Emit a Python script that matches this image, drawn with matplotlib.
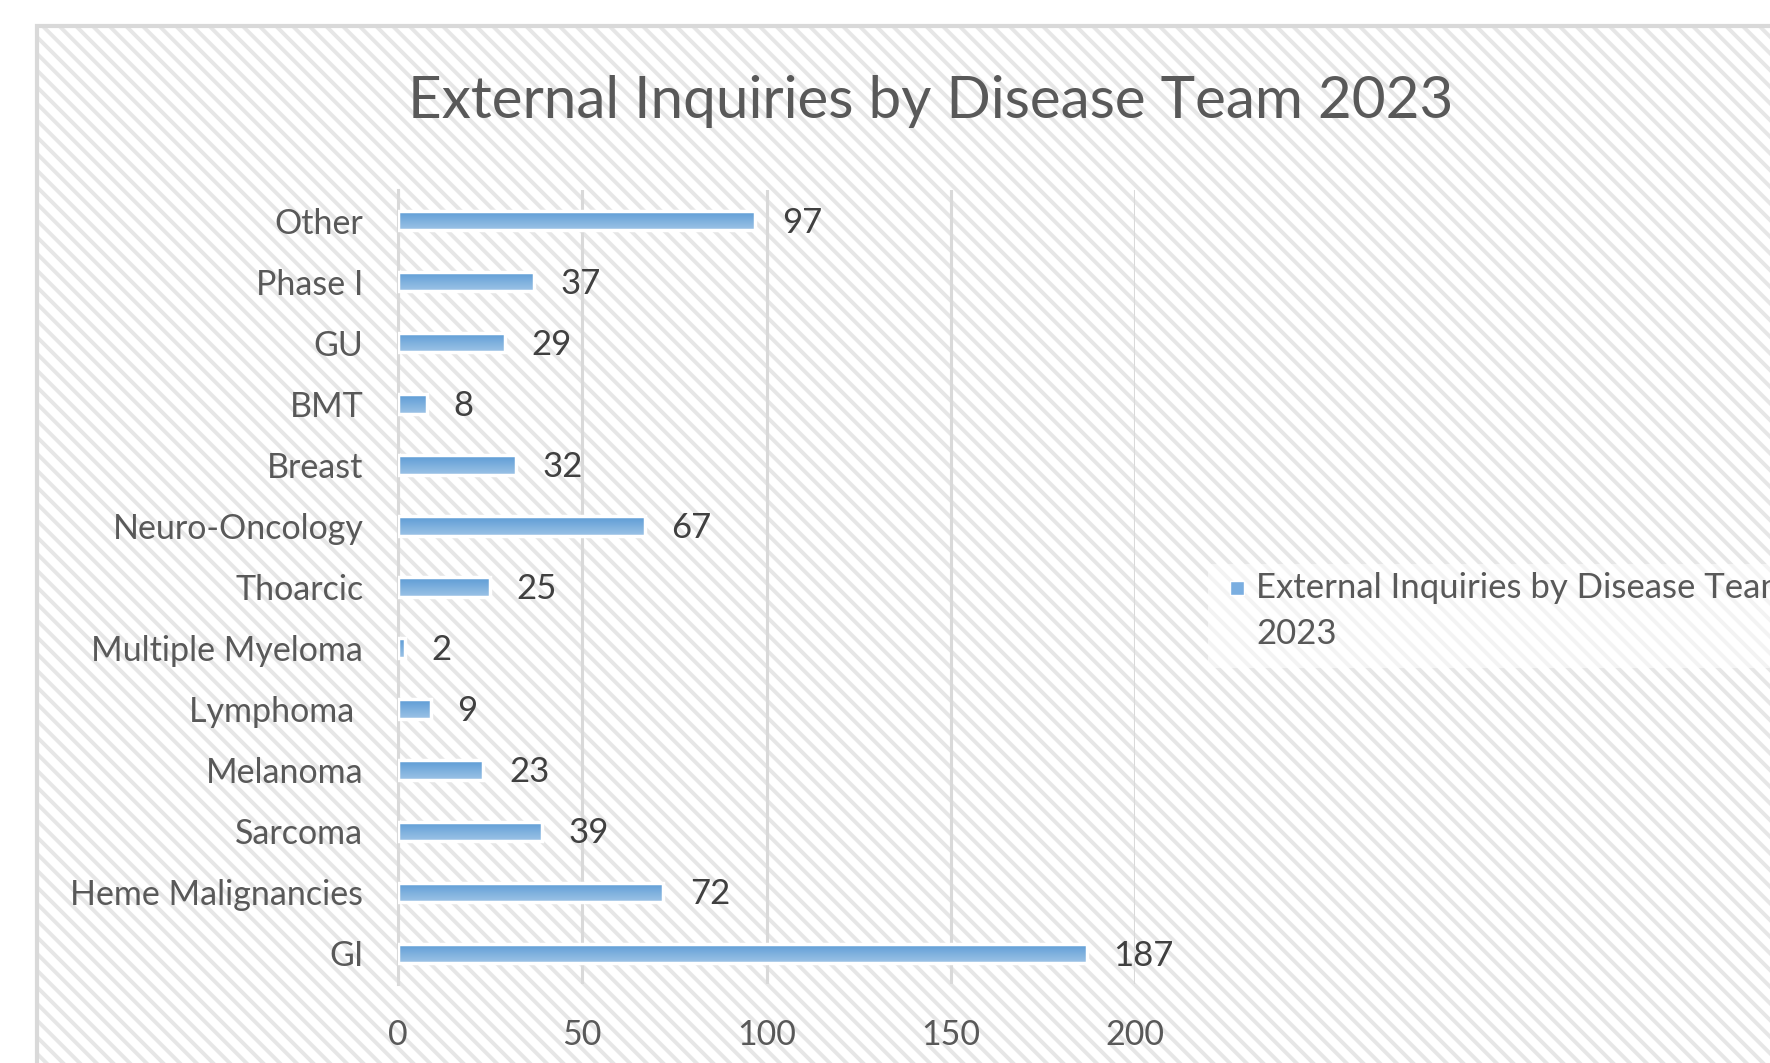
import numpy as np
import matplotlib.pyplot as plt
from matplotlib.patches import Rectangle
from matplotlib.colors import LinearSegmentedColormap

# data (top to bottom)
categories = ["Other", "Phase I", "GU", "BMT", "Breast", "Neuro-Oncology", "Thoarcic",
              "Multiple Myeloma", "Lymphoma ", "Melanoma", "Sarcoma", "Heme Malignancies", "GI"]
values = [97, 37, 29, 8, 32, 67, 25, 2, 9, 23, 39, 72, 187]
x_ticks = [0, 50, 100, 150, 200]
title = "External Inquiries by Disease Team 2023"
series_name = "External Inquiries by Disease Team\n2023"

plt.rcParams['font.family'] = ['Lato', 'DejaVu Sans']
plt.rcParams['hatch.linewidth'] = 2.8

W, H = 1770, 1063
fig = plt.figure(figsize=(W / 100, H / 100), dpi=100)

# hatched chart-area background with grey border (cut off at right/bottom)
bg = Rectangle((37 / W, -0.05), 1.1, 1 - 26 / H + 0.05, transform=fig.transFigure,
               facecolor='white', edgecolor='#e6e6e6', hatch='\\\\', linewidth=0, zorder=0)
fig.add_artist(bg)
border = Rectangle((37 / W, -0.05), 1.1, 1 - 26 / H + 0.05, transform=fig.transFigure,
                   facecolor='none', edgecolor='#d9d9d9', linewidth=3, zorder=1)
fig.add_artist(border)

ax = fig.add_axes([398 / W, 1 - 984 / H, (1135 - 398) / W, (984 - 190) / H])
ax.patch.set_alpha(0)

y = np.arange(len(categories))
bars = ax.barh(y, values, height=0.32, facecolor='none', edgecolor='white', linewidth=2.5, zorder=3)

# gradient fill clipped to each bar
cmap = LinearSegmentedColormap.from_list('bar', ['#5b9bd5', '#9dc3e6'])
grad = np.linspace(0, 1, 64).reshape(-1, 1)
for b in bars:
    x0, y0 = b.get_x(), b.get_y()
    w, h = b.get_width(), b.get_height()
    im = ax.imshow(grad, cmap=cmap, aspect='auto', extent=[x0, x0 + w, y0 + h, y0],
                   origin='upper', zorder=2)
    im.set_clip_path(b)
ax.set_xlim(0, 200)
ax.set_ylim(len(categories) - 0.5, -0.5)

for yi, v in zip(y, values):
    ax.annotate(str(v), (v, yi), xytext=(19, -1.5), textcoords='offset points',
                va='center', ha='left', fontsize=25, color='#404040')

ax.set_yticks(y)
ax.set_yticklabels(categories)
ax.set_xticks(x_ticks)
ax.tick_params(axis='y', length=0, pad=25, labelsize=24.5, labelcolor='#595959')
ax.tick_params(axis='x', length=0, pad=25, labelsize=24.5, labelcolor='#595959')
ax.grid(axis='x', color='#d9d9d9', linewidth=2.2, zorder=1)
ax.set_axisbelow(True)
for s in ['top', 'right', 'bottom']:
    ax.spines[s].set_visible(False)
ax.spines['left'].set_color('#d9d9d9')
ax.spines['left'].set_linewidth(2.2)

fig.text(931 / W, 1 - 101 / H, title, ha='center', va='center', fontsize=42, color='#595959')

# legend drawn manually so it runs off the right edge like the reference
fig.add_artist(Rectangle((1208 / W, 1 - 668 / H), 0.5, 104 / H, transform=fig.transFigure,
                         facecolor='white', alpha=0.55, linewidth=0, zorder=1))
fig.add_artist(Rectangle((1230 / W, 1 - 595 / H), 14 / W, 14 / H, transform=fig.transFigure,
                         facecolor='#7aaee0', edgecolor='white', linewidth=1, zorder=3))
fig.text(1256 / W, 1 - 588 / H, series_name.split('\n')[0], ha='left', va='center',
         fontsize=25, color='#595959')
fig.text(1256 / W, 1 - 634 / H, series_name.split('\n')[1], ha='left', va='center',
         fontsize=25, color='#595959')

fig.savefig('out.png', dpi=100)
